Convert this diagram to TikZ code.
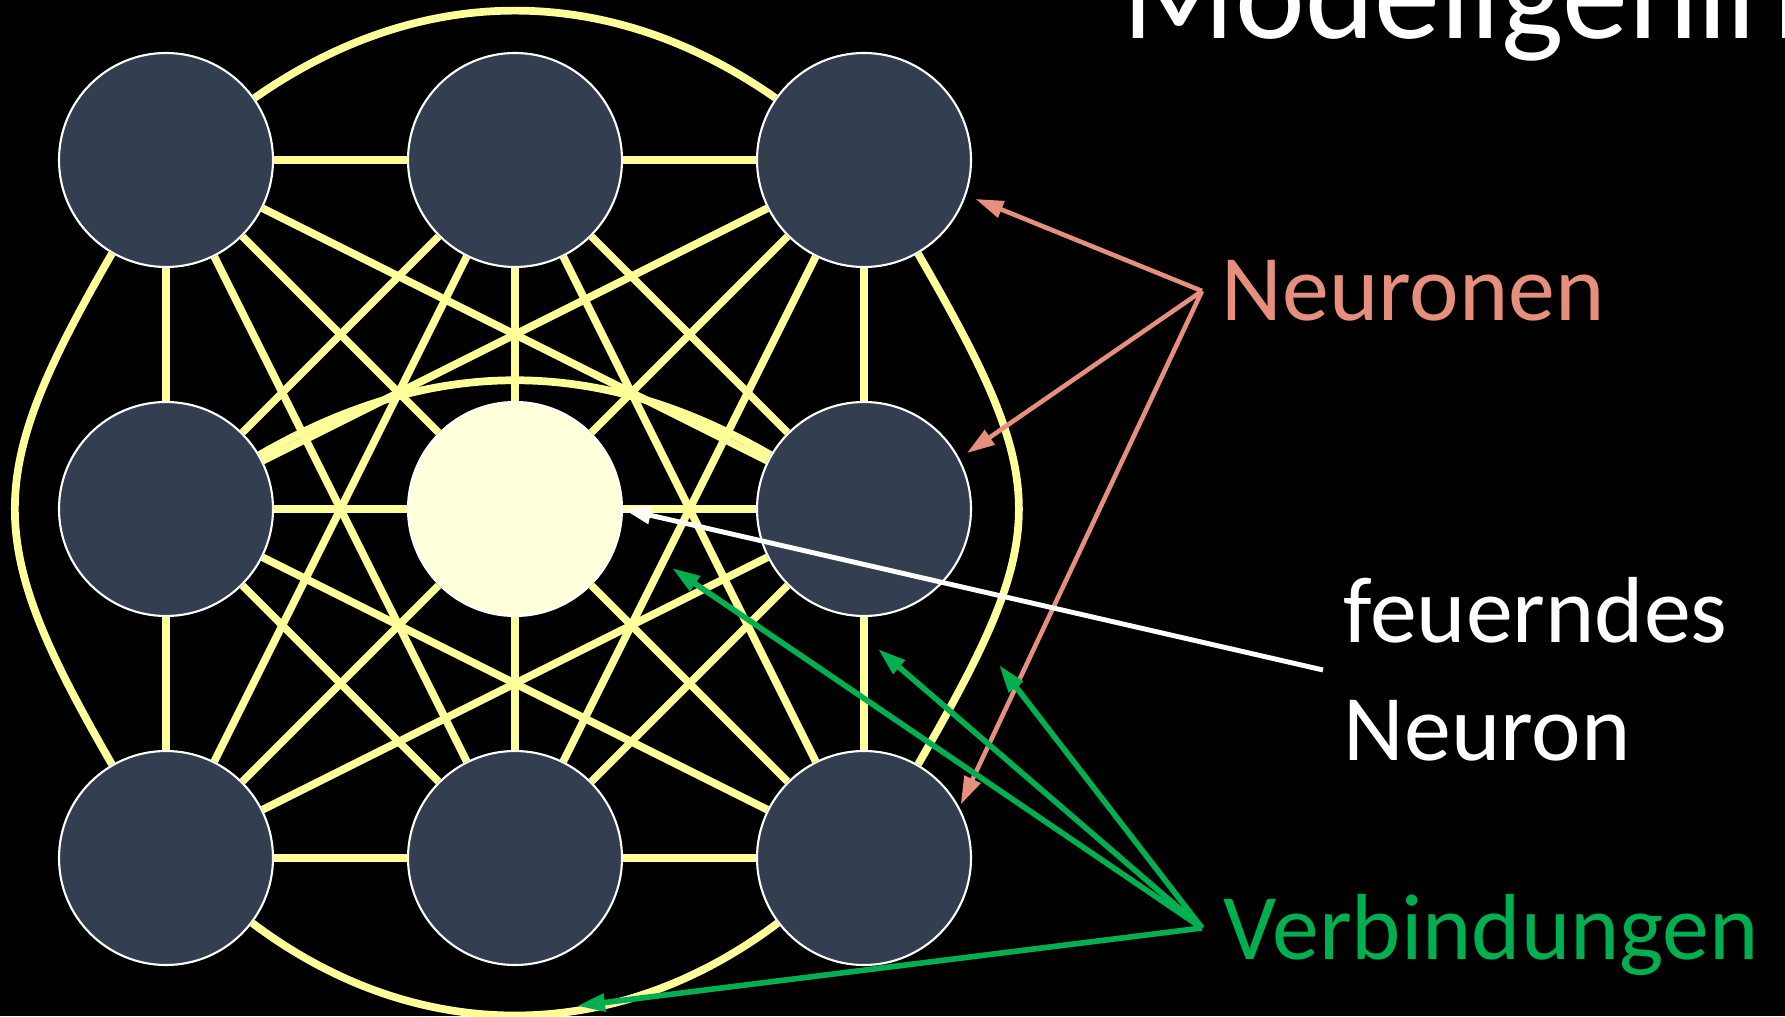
\documentclass[tikz,border=0pt]{standalone}
\usepackage{fontspec}
\setmainfont{Carlito}
\usetikzlibrary{arrows.meta, positioning}

\definecolor{neuronfill}{HTML}{333F50}
\definecolor{firedfill}{HTML}{FFFFDC}
\definecolor{synapse}{HTML}{FFFF99}
\definecolor{salmon}{HTML}{E58F7C}
\definecolor{linkgreen}{HTML}{00B050}

\begin{document}
\begin{tikzpicture}[node distance=3.49cm,
    neuron/.style={circle, draw=white, line width=0.6pt, fill=neuronfill, minimum size=2.14cm, inner sep=0pt},
    conn/.style={draw=synapse, line width=2.2pt},
    caption/.style={anchor=base west, inner sep=0pt, align=left, font=\fontsize{26.7}{33.3}\selectfont},
    >={Triangle[length=0.28cm, width=0.17cm]}]

    \useasboundingbox (0,0) rectangle (17.85,10.16);
    \clip (0,0) rectangle (17.85,10.16);
    \fill[black] (0,0) rectangle (17.85,10.16);

    % Neurons
    \node (TL) [neuron] at (1.66,8.56) {};
    \node (TM) [neuron, right of=TL] {};
    \node (TR) [neuron, right of=TM] {};
    \node (ML) [neuron, below of=TL] {};
    \node (C) [neuron, below of=TM, fill=firedfill] {};
    \node (MR) [neuron, below of=TR] {};
    \node (BL) [neuron, below of=ML] {};
    \node (BM) [neuron, below of=C] {};
    \node (BR) [neuron, below of=MR] {};

    % Labels
    \node (title) [caption, text=white, font=\fontsize{37.6}{45}\selectfont] at (11.22,9.77) {Modellgehirn};
    \node (neur) [caption, text=salmon] at (12.21,6.95) {Neuronen};
    \node (fire) [caption, text=white] at (13.43,2.56) {feuerndes\\Neuron};
    \node (verb) [caption, text=linkgreen] at (12.23,0.57) {Verbindungen};

    \coordinate (nStart) at (12.02,7.25);
    \coordinate (fStart) at (13.23,3.46);
    \coordinate (vStart) at (12.02,0.88);
    \coordinate (vTipA) at (6.72,4.48);
    \coordinate (vTipB) at (8.78,3.67);
    \coordinate (vTipC) at (9.99,3.51);
    \coordinate (vTipD) at (5.77,0.10);

    % Connections
    \draw[conn] (TL) -- (TM);
    \draw[conn] (TL) -- (ML);
    \draw[conn] (TL) -- (C);
    \draw[conn] (TL) -- (MR);
    \draw[conn] (TL) -- (BM);
    \draw[conn] (TM) -- (TR);
    \draw[conn] (TM) -- (ML);
    \draw[conn] (TM) -- (C);
    \draw[conn] (TM) -- (MR);
    \draw[conn] (TM) -- (BL);
    \draw[conn] (TM) -- (BR);
    \draw[conn] (TR) -- (MR);
    \draw[conn] (TR) -- (C);
    \draw[conn] (TR) -- (ML);
    \draw[conn] (TR) -- (BM);
    \draw[conn] (ML) -- (C);
    \draw[conn] (ML) -- (BL);
    \draw[conn] (ML) -- (BM);
    \draw[conn] (ML) -- (BR);
    \draw[conn] (C) -- (MR);
    \draw[conn] (C) -- (BL);
    \draw[conn] (C) -- (BM);
    \draw[conn] (C) -- (BR);
    \draw[conn] (MR) -- (BR);
    \draw[conn] (MR) -- (BL);
    \draw[conn] (MR) -- (BM);
    \draw[conn] (BL) -- (BM);
    \draw[conn] (BM) -- (BR);
    \draw[conn] (TL) to[out=35, in=145] (TR);
    \draw[conn] (BL) to[out=-37, in=-143] (BR);
    \draw[conn] (TL) to[out=240, in=120, looseness=1.3] (BL);
    \draw[conn] (TR) to[out=-60, in=60, looseness=1.35] (BR);
    \draw[conn] (ML) to[out=30, in=150] (MR);

    % Arrows
    \draw[->, salmon, line width=1.3pt, shorten >=0.1cm] (nStart) -- (TR.-19);
    \draw[->, salmon, line width=1.3pt, shorten >=0.09cm] (nStart) -- (MR.28);
    \draw[->, salmon, line width=1.3pt, shorten >=0.03cm] (nStart) -- (BR.28);
    \draw[->, white, line width=1.4pt] (fStart) -- (C.east);
    \draw[->, linkgreen, line width=1.6pt] (vStart) -- (vTipA);
    \draw[->, linkgreen, line width=1.6pt] (vStart) -- (vTipB);
    \draw[->, linkgreen, line width=1.6pt] (vStart) -- (vTipC);
    \draw[->, linkgreen, line width=1.6pt] (vStart) -- (vTipD);
\end{tikzpicture}
\end{document}
